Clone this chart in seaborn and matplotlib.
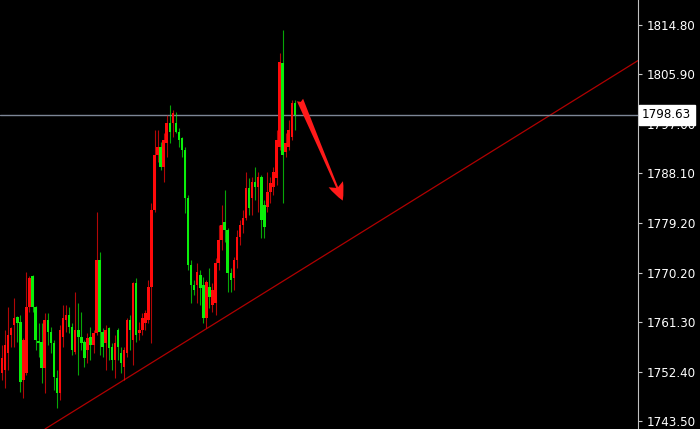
import numpy as np
import pandas as pd
import matplotlib
matplotlib.use("Agg")
import matplotlib.pyplot as plt
import seaborn as sns

# ---- candle data (XAUUSD-like) ----
opens = [1752.2, 1752.7, 1755.8, 1759.0, 1760.8, 1762.3, 1761.4, 1750.9, 1752.2, 1764.1,
         1769.6, 1764.1, 1758.0, 1757.8, 1753.1, 1761.7, 1759.6, 1757.6, 1751.3, 1748.6,
         1758.7, 1761.7, 1762.6, 1760.5, 1756.0, 1759.9, 1758.7, 1757.8, 1756.3, 1758.7,
         1757.2, 1759.4, 1772.5, 1759.6, 1757.6, 1760.3, 1756.9, 1754.5, 1759.9, 1755.8,
         1753.3, 1755.8, 1761.7, 1758.1, 1768.4, 1759.4, 1759.9, 1761.2, 1761.7, 1767.7,
         1781.5, 1791.4, 1792.9, 1789.3, 1793.6, 1797.2, 1797.2, 1797.2, 1795.6, 1794.5,
         1792.3, 1783.7, 1771.6, 1768.0, 1768.0, 1769.8, 1768.0, 1762.1, 1767.7, 1764.4,
         1764.8, 1772.0, 1776.1, 1779.4, 1777.9, 1770.2, 1769.3, 1772.5, 1776.7, 1778.8,
         1780.1, 1785.5, 1783.7, 1786.6, 1785.7, 1787.5, 1782.4, 1782.1, 1784.8, 1785.7,
         1787.3, 1792.9, 1808.0, 1791.9, 1792.9, 1794.7, 1800.8]
highs = [1757.2, 1760.0, 1764.1, 1760.5, 1765.7, 1762.5, 1762.6, 1758.4, 1770.4, 1769.6,
         1769.8, 1764.3, 1761.2, 1761.2, 1763.0, 1763.0, 1760.5, 1758.1, 1752.7, 1760.8,
         1764.4, 1764.4, 1764.1, 1761.2, 1766.8, 1764.8, 1763.2, 1758.1, 1759.4, 1760.5,
         1759.9, 1781.2, 1774.0, 1760.3, 1760.8, 1760.5, 1757.6, 1759.0, 1760.3, 1756.9,
         1756.9, 1762.1, 1762.6, 1768.6, 1769.3, 1761.4, 1763.0, 1763.5, 1768.9, 1782.8,
         1795.9, 1795.9, 1793.8, 1795.4, 1798.6, 1800.4, 1799.5, 1799.2, 1796.3, 1794.7,
         1792.9, 1784.2, 1772.5, 1768.9, 1772.0, 1770.7, 1769.5, 1768.9, 1771.1, 1768.4,
         1772.9, 1778.8, 1782.4, 1785.1, 1778.3, 1771.1, 1773.0, 1777.9, 1779.7, 1781.5,
         1788.4, 1787.3, 1787.5, 1789.3, 1788.4, 1787.8, 1783.3, 1788.4, 1787.5, 1789.3,
         1795.9, 1809.8, 1813.9, 1795.4, 1797.7, 1801.3, 1801.3]
lows = [1750.9, 1749.5, 1752.7, 1756.9, 1756.9, 1757.8, 1748.8, 1747.7, 1751.8, 1763.2,
        1763.2, 1756.3, 1755.1, 1750.4, 1748.6, 1757.2, 1755.8, 1749.1, 1745.9, 1747.3,
        1756.9, 1759.6, 1759.4, 1755.4, 1755.6, 1751.8, 1756.3, 1753.3, 1754.0, 1754.5,
        1755.8, 1759.0, 1755.4, 1755.1, 1752.7, 1754.5, 1752.7, 1751.3, 1754.5, 1752.2,
        1750.9, 1755.1, 1756.3, 1753.6, 1757.8, 1758.1, 1759.0, 1759.9, 1761.2, 1757.6,
        1781.2, 1790.2, 1788.7, 1786.6, 1791.1, 1793.6, 1794.7, 1795.4, 1792.9, 1791.1,
        1781.0, 1770.7, 1764.8, 1766.2, 1764.8, 1764.4, 1761.2, 1760.3, 1763.9, 1763.2,
        1762.6, 1770.7, 1774.3, 1775.8, 1766.8, 1766.8, 1767.1, 1771.1, 1775.2, 1777.4,
        1779.7, 1780.6, 1780.6, 1783.3, 1781.2, 1776.5, 1776.5, 1781.2, 1782.8, 1784.2,
        1786.0, 1792.3, 1782.8, 1791.1, 1792.3, 1794.1, 1795.9]
closes = [1754.9, 1757.2, 1759.0, 1760.3, 1762.1, 1761.2, 1750.6, 1758.1, 1764.1, 1769.3,
          1764.1, 1758.1, 1757.6, 1753.1, 1761.7, 1759.6, 1757.6, 1751.5, 1748.6, 1759.9,
          1762.1, 1762.6, 1760.5, 1756.3, 1759.9, 1758.7, 1757.6, 1754.9, 1758.5, 1757.2,
          1759.4, 1772.5, 1759.6, 1756.9, 1759.9, 1756.7, 1754.5, 1757.6, 1756.9, 1754.0,
          1756.3, 1761.7, 1759.9, 1768.4, 1759.0, 1759.9, 1762.1, 1763.0, 1767.7, 1781.5,
          1791.4, 1792.9, 1789.3, 1794.1, 1797.2, 1795.6, 1799.0, 1795.6, 1794.1, 1792.3,
          1783.7, 1771.6, 1768.0, 1767.1, 1770.4, 1767.5, 1762.1, 1768.6, 1765.9, 1767.1,
          1772.0, 1776.1, 1778.8, 1777.9, 1770.2, 1768.9, 1772.5, 1776.7, 1778.8, 1780.1,
          1785.5, 1781.9, 1786.6, 1785.7, 1787.5, 1779.7, 1778.5, 1784.8, 1786.4, 1788.4,
          1794.1, 1808.1, 1791.4, 1793.6, 1795.9, 1800.8, 1798.63]

# axis tick values and current price
tick_values = [1814.80, 1805.90, 1797.00, 1788.10, 1779.20, 1770.20, 1761.30, 1752.40, 1743.50]
current_price = 1798.63

# trend line anchors (bar index, price) and arrow (bar index, price)
trend_bars = [14.1, 208.5]
trend_prices = [1742.1, 1808.4]
arrow_start = (97.7, 1801.3)
arrow_end = (111.7, 1783.2)

UP = "#ff0a0a"
DOWN = "#0aee0a"

df = pd.DataFrame({"o": opens, "h": highs, "l": lows, "c": closes})
df["i"] = np.arange(len(df))
df["up"] = df["c"] >= df["o"]

sns.set_style("dark", {"axes.facecolor": "black", "figure.facecolor": "black"})
plt.rcParams["font.family"] = ["DejaVu Sans"]

fig = plt.figure(figsize=(7.0, 4.29), dpi=100)
fig.patch.set_facecolor("black")
ax = fig.add_axes([0, 0, 638 / 700, 1])
ax.set_facecolor("black")

colors = np.where(df["up"], UP, DOWN)
# wicks
ax.vlines(df["i"], df["l"], df["h"], colors=colors, linewidth=0.8, alpha=0.7, zorder=2)
# bodies
bottoms = np.minimum(df["o"], df["c"])
heights = np.maximum(np.abs(df["c"] - df["o"]), 0.15)
ax.bar(df["i"], heights, bottom=bottoms, width=0.82, color=colors, linewidth=0, zorder=3)

# trend line via seaborn
trend = pd.DataFrame({"bar": trend_bars, "price": trend_prices})
sns.lineplot(data=trend, x="bar", y="price", ax=ax, color="#b00000", linewidth=0.9, zorder=1)

# current price line
ax.axhline(current_price, color="#7d8696", linewidth=1.0, zorder=1)

# arrow
ax.annotate("", xy=arrow_end, xytext=arrow_start,
            arrowprops=dict(arrowstyle="fancy,head_length=0.8,head_width=0.7,tail_width=0.3",
                            color="#ff1a1a", linewidth=0, mutation_scale=16, shrinkA=0, shrinkB=0),
            zorder=5)

ax.set_xlim(-0.66, 208.5)
ax.set_ylim(1742.1, 1819.3)

ax.yaxis.tick_right()
ax.set_yticks(tick_values)
ax.set_yticklabels([f"{v:.2f}" for v in tick_values])
ax.tick_params(axis="y", colors="#c8c8c8", labelcolor="white", labelsize=8.6, length=3,
               width=0.8, direction="out", pad=3)
ax.set_xticks([])
ax.set_xlabel("")
ax.set_ylabel("")
ax.grid(False)
for side in ["top", "left", "bottom"]:
    ax.spines[side].set_visible(False)
ax.spines["right"].set_visible(True)
ax.spines["right"].set_color("#c0c0c0")
ax.spines["right"].set_linewidth(0.8)

# current price label box
ax.annotate(f"{current_price:.2f}", xy=(1.0, current_price), xycoords=("axes fraction", "data"),
            xytext=(3, 0), textcoords="offset points", ha="left", va="center",
            fontsize=8.6, color="black", zorder=10, annotation_clip=False,
            bbox=dict(boxstyle="square,pad=0.28", fc="white", ec="white"))

fig.savefig("out.png", dpi=100, facecolor="black")
